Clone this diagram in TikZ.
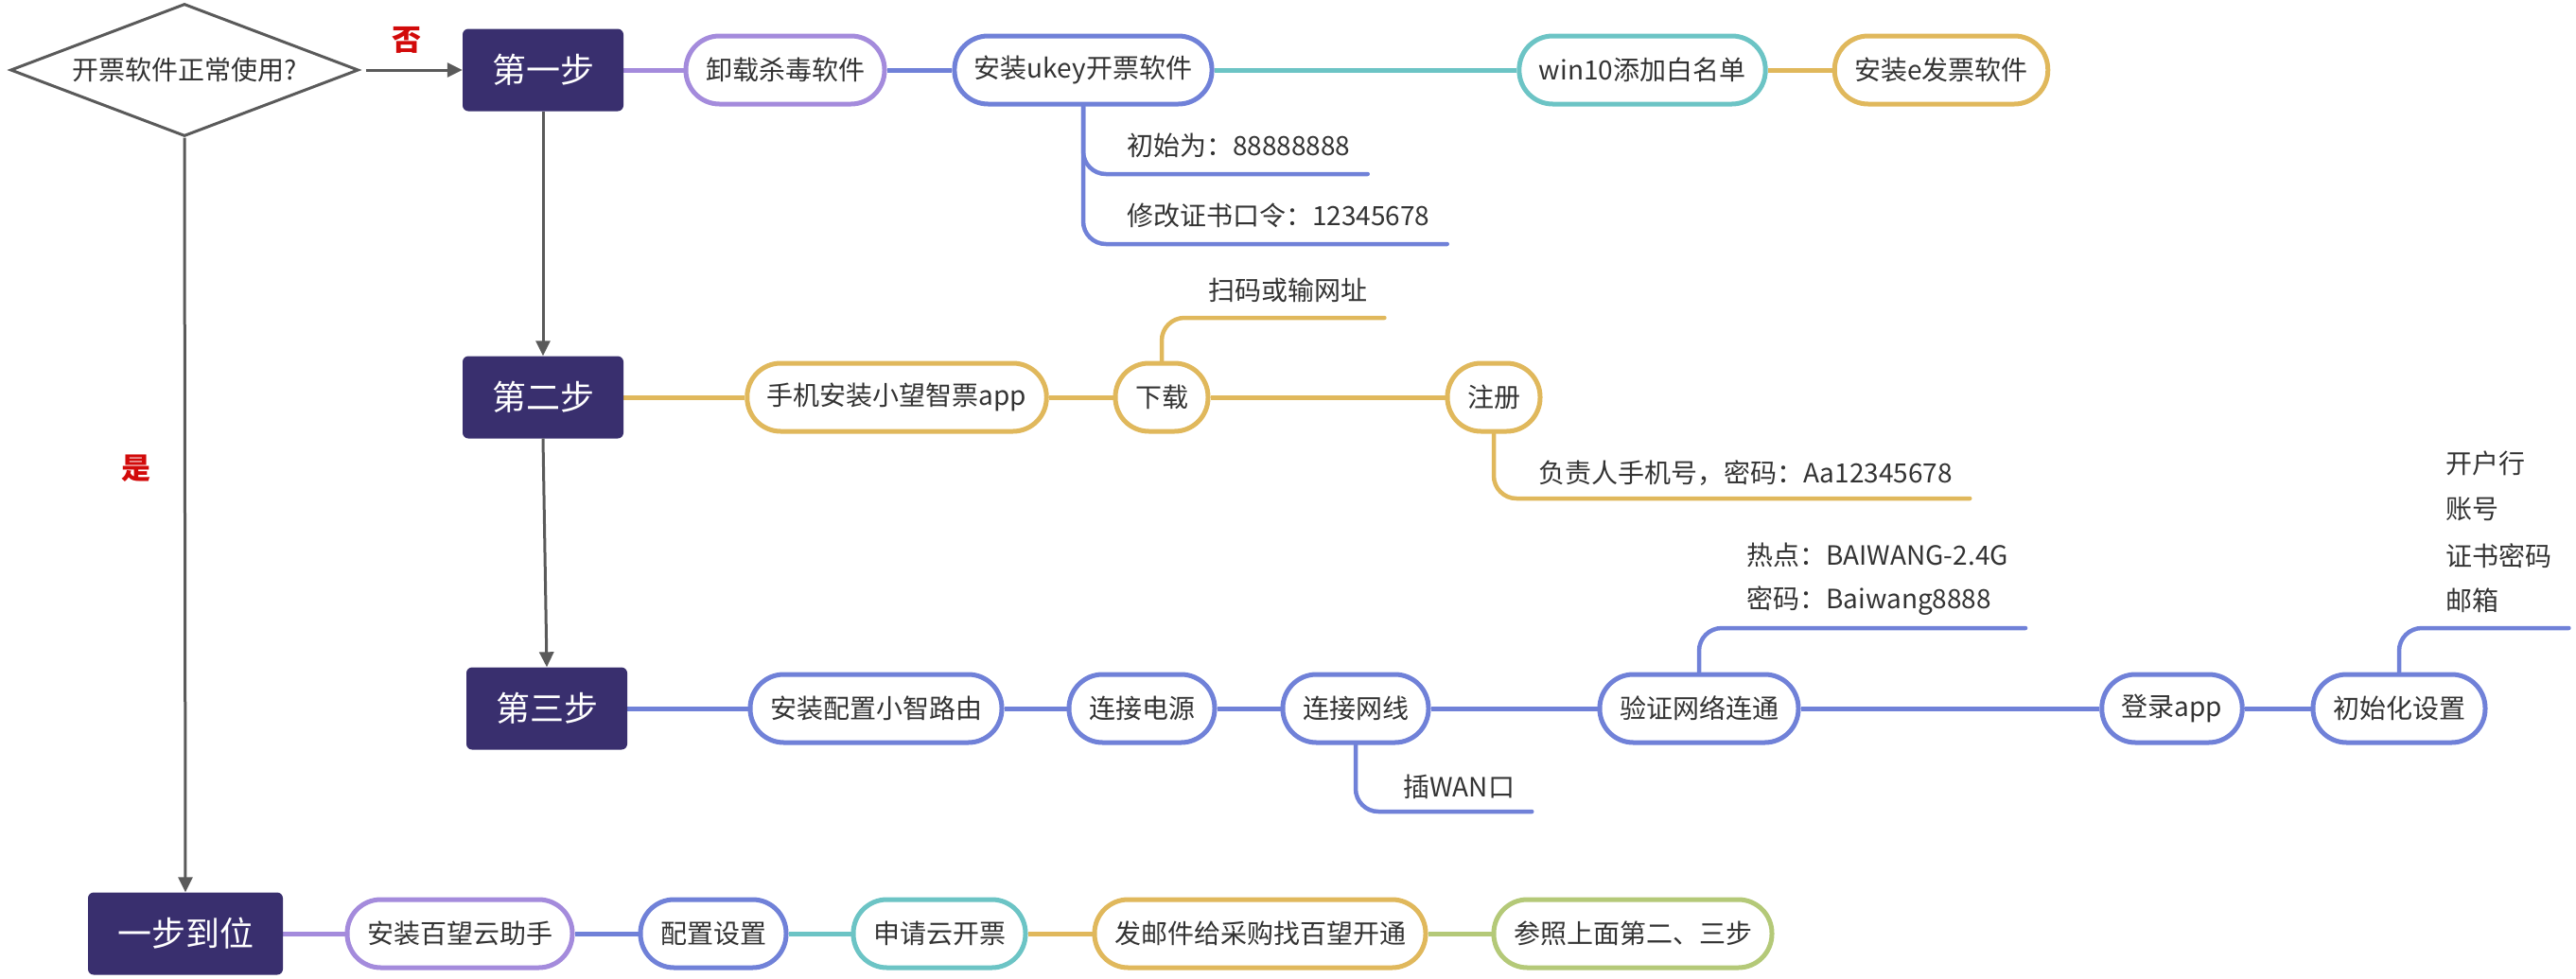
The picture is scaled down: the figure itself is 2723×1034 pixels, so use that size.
\documentclass[tikz,border=0pt]{standalone}
\usepackage{fontspec}
\newfontfamily\cjk{Noto Sans CJK SC}
\usepackage{tikz}
\usetikzlibrary{shapes.geometric,arrows.meta,calc}

\definecolor{stepfill}{HTML}{392F6E}
\definecolor{lav}{HTML}{A48BDC}
\definecolor{blu}{HTML}{7081D8}
\definecolor{tea}{HTML}{6CC4C5}
\definecolor{gol}{HTML}{E0B85C}
\definecolor{gre}{HTML}{B4C978}
\definecolor{gry}{HTML}{5A5A5A}
\definecolor{txt}{HTML}{333333}
\definecolor{redlab}{HTML}{D20A0A}

\pgfdeclarelayer{background}
\pgfsetlayers{background,main}

\tikzset{
  stepbox/.style={fill=stepfill, text=white, rounded corners=6pt, minimum width=170pt,
    minimum height=87pt, inner xsep=31pt, font=\cjk\fontsize{36}{40}\selectfont},
  pill/.style={draw=#1, fill=white, line width=5pt, rounded corners=35.5pt,
    minimum height=72pt, inner xsep=21pt, text=txt, font=\cjk\fontsize{28}{32}\selectfont},
  link/.style={draw=#1, line width=5pt},
  twig/.style={draw=#1, line width=4.5pt, rounded corners=24pt, line cap=round},
  leaf/.style={anchor=west, inner sep=0pt, text=txt, font=\cjk\fontsize{28}{32}\selectfont},
  flow/.style={draw=gry, line width=3pt, -{Triangle[width=15pt,length=16pt]}},
  yesno/.style={text=redlab, font=\cjk\bfseries\fontsize{31}{34}\selectfont},
}

\begin{document}
\begin{tikzpicture}[x=1pt,y=-1pt]
\useasboundingbox (0,0) rectangle (2723,1034);

%%%%%%%%%%%%%%%%%%Draw The Question%%%%%%%%%%%%%%%%%%
\node[shape=diamond, draw=gry, line width=3pt, aspect=2.6, minimum width=368pt,
  minimum height=140pt, inner sep=0pt, text=txt, font=\cjk\fontsize{28}{32}\selectfont]
  (ask) at (195,74) {开票软件正常使用?};

%%%%%%%%%%%%%%%%%%Draw The Step Boxes%%%%%%%%%%%%%%%%%
\node[stepbox] (s1) at (574,74) {第一步};
\node[stepbox] (s2) at (574,420) {第二步};
\node[stepbox] (s3) at (578,749) {第三步};
\node[stepbox] (s0) at (196,987) {一步到位};

%%%%%%%%%%%%%%%%%%Draw Flow Arrows%%%%%%%%%%%%%%%%%%%%
\draw[flow, shorten <=6pt] (ask.east) -- (s1.west);
\draw[flow] (ask.south) -- (s0.north);
\draw[flow] (s1.south) -- (s2.north);
\draw[flow] (s2.south) -- (s3.north);
\node[yesno] (no) at (430,42) {否};
\node[yesno] (yes) at (144,495) {是};

%%%%%%%%%%%%%%%%%%Step One%%%%%%%%%%%%%%%%%%%%%%%%%%%%
\node[pill=lav] (a1) at (830,74) {卸载杀毒软件};
\node[pill=blu] (a2) at (1145,74) {安装ukey开票软件};
\node[pill=tea] (a3) at (1736,74) {win10添加白名单};
\node[pill=gol] (a4) at (2052,74) {安装e发票软件};
\node[leaf] (a2x) at (1191,154) {初始为：88888888};
\node[leaf] (a2y) at (1191,228) {修改证书口令：12345678};

%%%%%%%%%%%%%%%%%%Step Two%%%%%%%%%%%%%%%%%%%%%%%%%%%%
\node[pill=gol] (b1) at (948,420) {手机安装小望智票app};
\node[pill=gol] (b2) at (1228,420) {下载};
\node[pill=gol] (b3) at (1579,420) {注册};
\node[leaf] (b2x) at (1277,307) {扫码或输网址};
\node[leaf] (b3x) at (1626,500) {负责人手机号，密码：Aa12345678};

%%%%%%%%%%%%%%%%%%Step Three%%%%%%%%%%%%%%%%%%%%%%%%%%
\node[pill=blu] (c1) at (926,749) {安装配置小智路由};
\node[pill=blu] (c2) at (1207,749) {连接电源};
\node[pill=blu] (c3) at (1433,749) {连接网线};
\node[pill=blu] (c4) at (1796,749) {验证网络连通};
\node[pill=blu] (c5) at (2296,749) {登录app};
\node[pill=blu] (c6) at (2536,749) {初始化设置};
\node[leaf] (c3x) at (1483,832) {插WAN口};
\node[leaf] (c4x) at (1846,587) {热点：BAIWANG-2.4G};
\node[leaf] (c4y) at (1846,635) {密码：Baiwang8888};
\node[leaf] (c6w) at (2585,490) {开户行};
\node[leaf] (c6x) at (2585,538) {账号};
\node[leaf] (c6y) at (2585,588) {证书密码};
\node[leaf] (c6z) at (2585,635) {邮箱};

%%%%%%%%%%%%%%%%%%One Step Way%%%%%%%%%%%%%%%%%%%%%%%%
\node[pill=lav] (d1) at (486,987) {安装百望云助手};
\node[pill=blu] (d2) at (754,987) {配置设置};
\node[pill=tea] (d3) at (993,987) {申请云开票};
\node[pill=gol] (d4) at (1332,987) {发邮件给采购找百望开通};
\node[pill=gre] (d5) at (1726,987) {参照上面第二、三步};

%%%%%%%%%%%%%%%%%%Draw Branch Lines%%%%%%%%%%%%%%%%%%%
\begin{pgfonlayer}{background}
\draw[link=lav] (s1) -- (a1);
\draw[link=blu] (a1) -- (a2);
\draw[link=tea] (a2) -- (a3);
\draw[link=gol] (a3) -- (a4);
\draw[twig=blu] (a2.south) |- ($(a2x.east)+(18,30)$);
\draw[twig=blu] (a2.south) |- ($(a2y.east)+(18,30)$);

\draw[link=gol] (s2) -- (b1);
\draw[link=gol] (b1) -- (b2);
\draw[link=gol] (b2) -- (b3);
\draw[twig=gol] (b2.north) |- ($(b2x.east)+(18,29)$);
\draw[twig=gol] (b3.south) |- ($(b3x.east)+(18,27)$);

\draw[link=blu] (s3) -- (c1);
\draw[link=blu] (c1) -- (c2);
\draw[link=blu] (c2) -- (c3);
\draw[link=blu] (c3) -- (c4);
\draw[link=blu] (c4) -- (c5);
\draw[link=blu] (c5) -- (c6);
\draw[twig=blu] (c3.south) |- ($(c3x.east)+(18,26)$);
\draw[twig=blu] (c4.north) |- ($(c4x.east)+(18,77)$);
\draw[twig=blu] (c6.north) |- ($(c6y.east)+(18,76)$);

\draw[link=lav] (s0) -- (d1);
\draw[link=blu] (d1) -- (d2);
\draw[link=tea] (d2) -- (d3);
\draw[link=gol] (d3) -- (d4);
\draw[link=gre] (d4) -- (d5);
\end{pgfonlayer}

\end{tikzpicture}
\end{document}
